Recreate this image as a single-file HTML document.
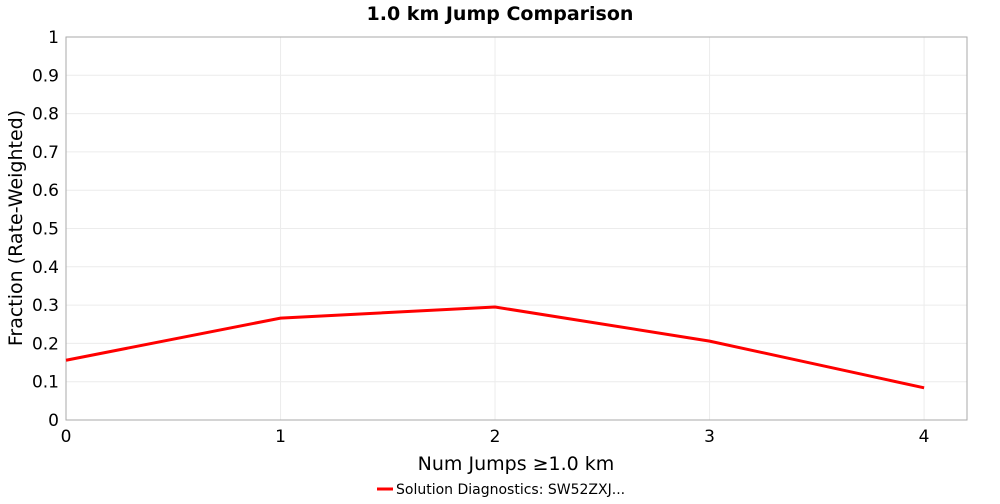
<!DOCTYPE html>
<html><head><meta charset="utf-8"><style>
body{margin:0;background:#fff;font-family:"DejaVu Sans","Liberation Sans",sans-serif;}
</style></head><body>
<svg id="chart" width="1000" height="500" xmlns="http://www.w3.org/2000/svg">
<text x="500" y="20" text-anchor="middle" font-weight="bold" font-size="19" font-family="DejaVu Sans, sans-serif">1.0 km Jump Comparison</text>
<g id="grid"></g>
<rect x="66" y="37" width="901" height="383" fill="none" stroke="#aaa"/>
<g id="axes"></g>
<g id="series"></g>
<text x="516" y="470" text-anchor="middle" font-size="19">Num Jumps ≥1.0 km</text>
<text transform="translate(22,228) rotate(-90)" text-anchor="middle" font-size="19">Fraction (Rate-Weighted)</text>
<g>
<line x1="377" y1="489" x2="393" y2="489" stroke="red" stroke-width="3"/>
<text x="396" y="494" font-size="14">Solution Diagnostics: SW52ZXJ...</text>
</g>
</svg>
<script>
const categories=[0,1,2,3,4];
const values=[0.156,0.266,0.295,0.206,0.084];
const xTicks=["0","1","2","3","4"];
const yTicks=["0","0.1","0.2","0.3","0.4","0.5","0.6","0.7","0.8","0.9","1"];
const L=66,R=967,T=37,B=420,XMAX=4.2;
const xs=v=>L+v/XMAX*(R-L), ys=v=>B-v*(B-T);
const NS="http://www.w3.org/2000/svg";
const grid=document.getElementById('grid'),axes=document.getElementById('axes'),ser=document.getElementById('series');
function mk(t,a,p){const e=document.createElementNS(NS,t);for(const k in a)e.setAttribute(k,a[k]);p.appendChild(e);return e;}
xTicks.forEach((t,i)=>{const x=xs(+t);
const g=mk('line',{x1:x,x2:x,y1:T,y2:B,stroke:'#ececec'},grid);


const tx=mk('text',{x:x,y:B+22,'text-anchor':'middle','font-size':'17'},axes);tx.textContent=t;


});
yTicks.forEach(t=>{const y=ys(+t);
const g=mk('line',{x1:L,x2:R,y1:y,y2:y,stroke:'#ececec'},grid);


const tx=mk('text',{x:L-7,y:y+6,'text-anchor':'end','font-size':'17'},axes);tx.textContent=t;


});
const pts=categories.map((c,i)=>xs(c)+','+ys(values[i])).join(' ');
const pl=mk('polyline',{points:pts,fill:'none',stroke:'red','stroke-width':3},ser);


</script>
</body></html>
